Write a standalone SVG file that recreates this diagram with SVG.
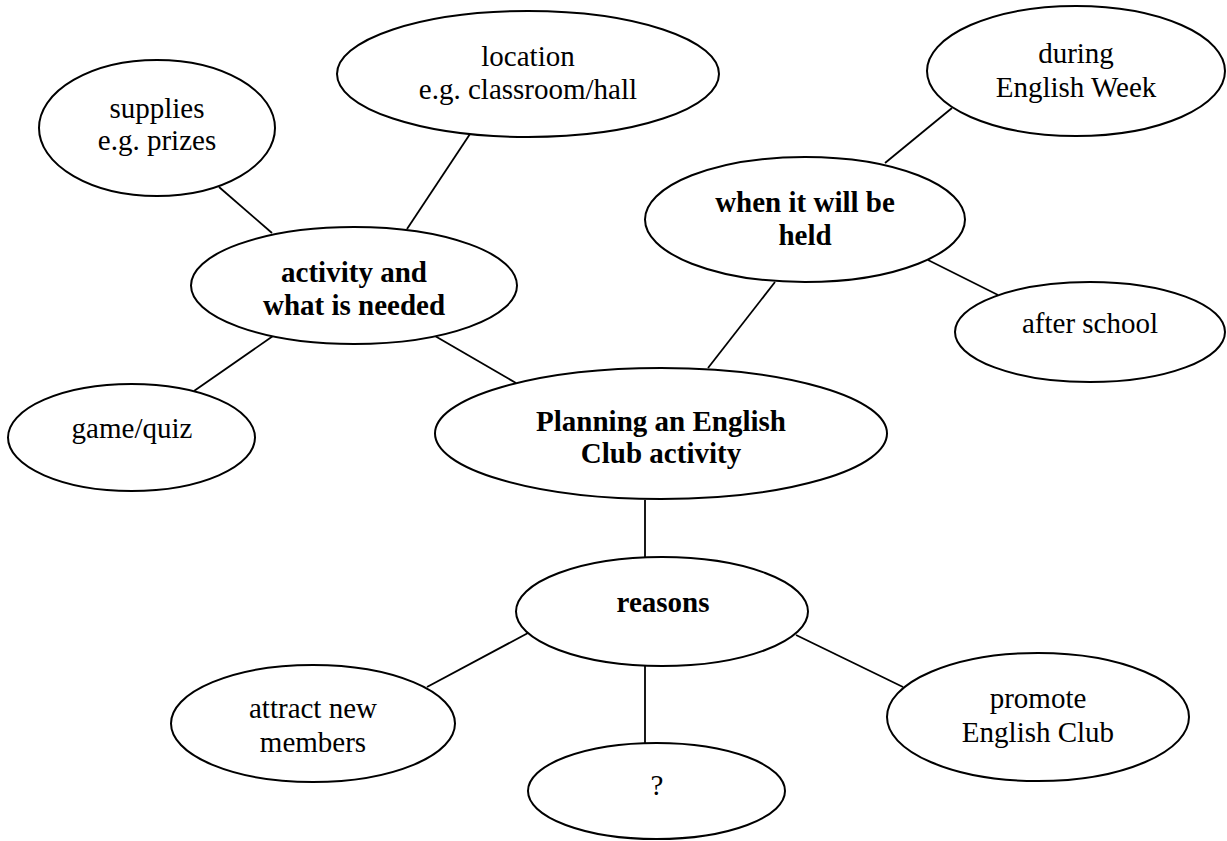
<svg xmlns="http://www.w3.org/2000/svg" width="1227" height="841" viewBox="0 0 1227 841">
<style>
.n ellipse{fill:#fff;stroke:#000;stroke-width:2}
text{font-family:"Liberation Serif","Times New Roman",serif;font-size:29px;fill:#000;text-anchor:middle}
.b{font-weight:bold}
#connectors line{stroke:#000;stroke-width:1.8}
</style>
<rect width="1227" height="841" fill="#fff"/>
<g id="connectors">
<line x1="219" y1="187" x2="272" y2="233"/>
<line x1="470" y1="134" x2="407" y2="229"/>
<line x1="273" y1="336" x2="194" y2="391"/>
<line x1="435" y1="336" x2="516" y2="383"/>
<line x1="775" y1="282" x2="708" y2="368"/>
<line x1="952" y1="108" x2="885" y2="163"/>
<line x1="928" y1="260" x2="998" y2="295"/>
<line x1="645" y1="500" x2="645" y2="557"/>
<line x1="528" y1="633" x2="427" y2="687"/>
<line x1="645" y1="666" x2="645" y2="743"/>
<line x1="796" y1="635" x2="903" y2="687"/>
</g>
<g id="location" class="n"><ellipse cx="528" cy="74" rx="191" ry="63"/><text x="528" y="66">location</text><text x="528" y="99">e.g. classroom/hall</text></g>
<g id="supplies" class="n"><ellipse cx="157" cy="128" rx="118" ry="68"/><text x="157" y="118">supplies</text><text x="157" y="150">e.g. prizes</text></g>
<g id="during" class="n"><ellipse cx="1076" cy="71" rx="149" ry="65"/><text x="1076" y="63">during</text><text x="1076" y="97">English Week</text></g>
<g id="when" class="n"><ellipse cx="805" cy="219.5" rx="160" ry="62.5"/><text class="b" x="805" y="212">when it will be</text><text class="b" x="805" y="245">held</text></g>
<g id="activity" class="n"><ellipse cx="354" cy="285.5" rx="163" ry="58.5"/><text class="b" x="354" y="282">activity and</text><text class="b" x="354" y="315">what is needed</text></g>
<g id="after" class="n"><ellipse cx="1090" cy="332" rx="135" ry="50"/><text x="1090" y="333">after school</text></g>
<g id="game" class="n"><ellipse cx="131.5" cy="437.5" rx="123.5" ry="53.5"/><text x="132" y="438">game/quiz</text></g>
<g id="planning" class="n"><ellipse cx="661" cy="433.5" rx="226" ry="65.5"/><text class="b" x="661" y="431">Planning an English</text><text class="b" x="661" y="463">Club activity</text></g>
<g id="reasons" class="n"><ellipse cx="662" cy="611.5" rx="146" ry="54.5"/><text class="b" x="663" y="612">reasons</text></g>
<g id="attract" class="n"><ellipse cx="313" cy="723.5" rx="142" ry="58.5"/><text x="313" y="718">attract new</text><text x="313" y="752">members</text></g>
<g id="promote" class="n"><ellipse cx="1038" cy="717" rx="151" ry="64"/><text x="1038" y="708">promote</text><text x="1038" y="742">English Club</text></g>
<g id="question" class="n"><ellipse cx="656.5" cy="791" rx="128.5" ry="48"/><text x="657" y="795">?</text></g>
</svg>
